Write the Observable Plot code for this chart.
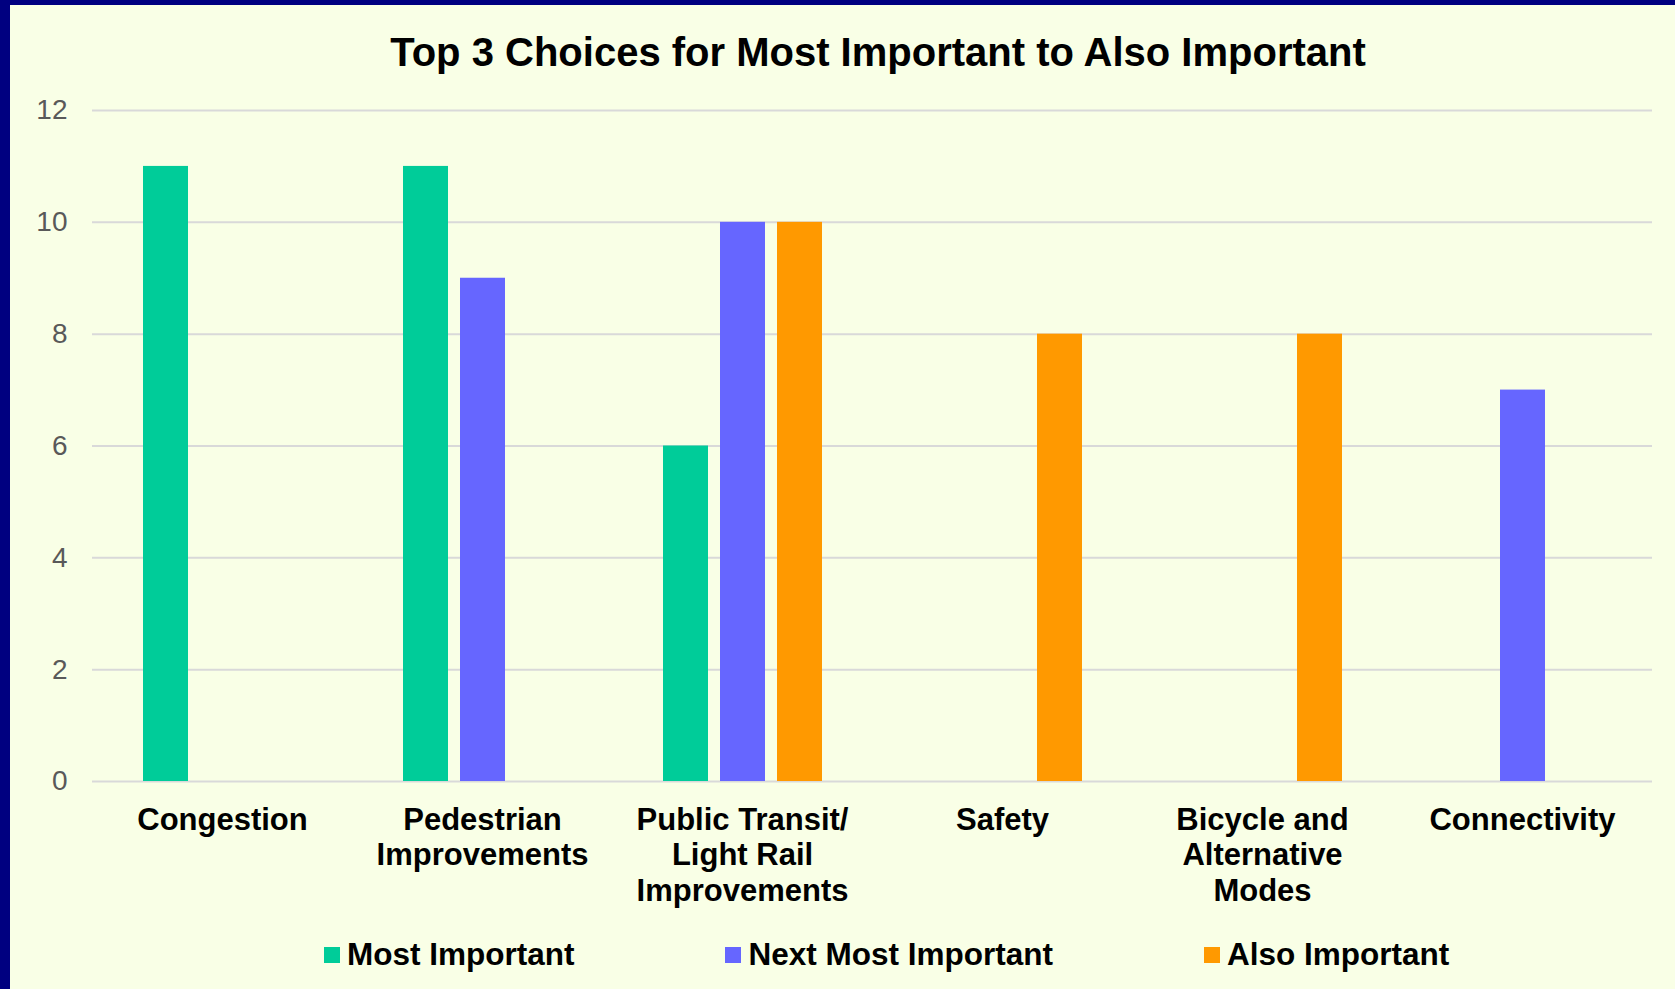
<!DOCTYPE html>
<html>
<head>
<meta charset="utf-8">
<script src="https://cdn.jsdelivr.net/npm/d3@7"></script>
<script src="https://cdn.jsdelivr.net/npm/@observablehq/plot@0.6"></script>
<style>
  html, body { margin: 0; padding: 0; }
  body { width: 1675px; height: 989px; background: #000080; position: relative; overflow: hidden; font-family: "Liberation Sans", Arial, sans-serif; }
  #panel { position: absolute; left: 10px; top: 5px; width: 1665px; height: 984px; background: #F9FFE6; }
  #title { position: absolute; left: 0; top: 26px; width: 1665px; padding-left: 71px; box-sizing: border-box; text-align: center; font-size: 40px; font-weight: bold; color: #000; line-height: 42px; }
  #chart { position: absolute; left: 0; top: 0; }
  #legend { position: absolute; left: 314px; top: 931px; display: flex; gap: 151px; align-items: center; font-size: 31.5px; font-weight: bold; color: #000; }
  .item { display: flex; align-items: center; gap: 7px; }
  .sw { width: 16px; height: 16px; display: inline-block; }
</style>
</head>
<body>
<div id="panel">
  <div id="title">Top 3 Choices for Most Important to Also Important</div>
  <div id="chart"></div>
  <div id="legend"></div>
</div>
<script>
const categories = ["Congestion", "Pedestrian\nImprovements", "Public Transit/\nLight Rail\nImprovements", "Safety", "Bicycle and\nAlternative\nModes", "Connectivity"];
const seriesNames = ["Most Important", "Next Most Important", "Also Important"];
const seriesColors = ["#00CC99", "#6666FF", "#FF9900"];
const mostImportant = [11, 11, 6, 0, 0, 0];
const nextMostImportant = [0, 9, 10, 0, 0, 7];
const alsoImportant = [0, 0, 10, 8, 8, 0];
const yTicks = [0, 2, 4, 6, 8, 10, 12];

const seriesValues = [mostImportant, nextMostImportant, alsoImportant];
const data = [];
categories.forEach((c, i) => {
  seriesNames.forEach((s, j) => {
    data.push({category: c, series: s, value: seriesValues[j][i]});
  });
});

const W = 1665, H = 920;
const chart = Plot.plot({
  width: W,
  height: H,
  marginLeft: 80,
  marginRight: 22,
  marginTop: 105,
  marginBottom: 144,
  style: {background: "transparent", fontFamily: "'Liberation Sans', Arial, sans-serif"},
  fx: {domain: categories, padding: 0, label: null, axis: null},
  x: {domain: seriesNames, paddingInner: 0.2174, paddingOuter: 0.8696, axis: null},
  y: {domain: [0, 12], ticks: yTicks, label: null, axis: null},
  color: {domain: seriesNames, range: seriesColors},
  marks: [
    Plot.ruleY(yTicks, {stroke: "#D9D9D9", strokeWidth: 2}),
    Plot.barY(data.filter(d => d.value > 0), {fx: "category", x: "series", y: "value", fill: "series"}),
    Plot.axisY({ticks: yTicks, tickSize: 0, tickPadding: 25, fontSize: 28, fill: "#595959", anchor: "left", label: null}),
    Plot.axisFx({anchor: "bottom", tickSize: 0, tickPadding: 23, fontSize: 31, fontWeight: "bold", fill: "#000", lineHeight: 1.15, label: null})
  ]
});
document.getElementById("chart").appendChild(chart);

const legend = document.getElementById("legend");
seriesNames.forEach((s, j) => {
  const it = document.createElement("div");
  it.className = "item";
  const sw = document.createElement("span");
  sw.className = "sw";
  sw.style.background = seriesColors[j];
  const t = document.createElement("span");
  t.textContent = s;
  it.appendChild(sw);
  it.appendChild(t);
  legend.appendChild(it);
});
</script>
</body>
</html>
